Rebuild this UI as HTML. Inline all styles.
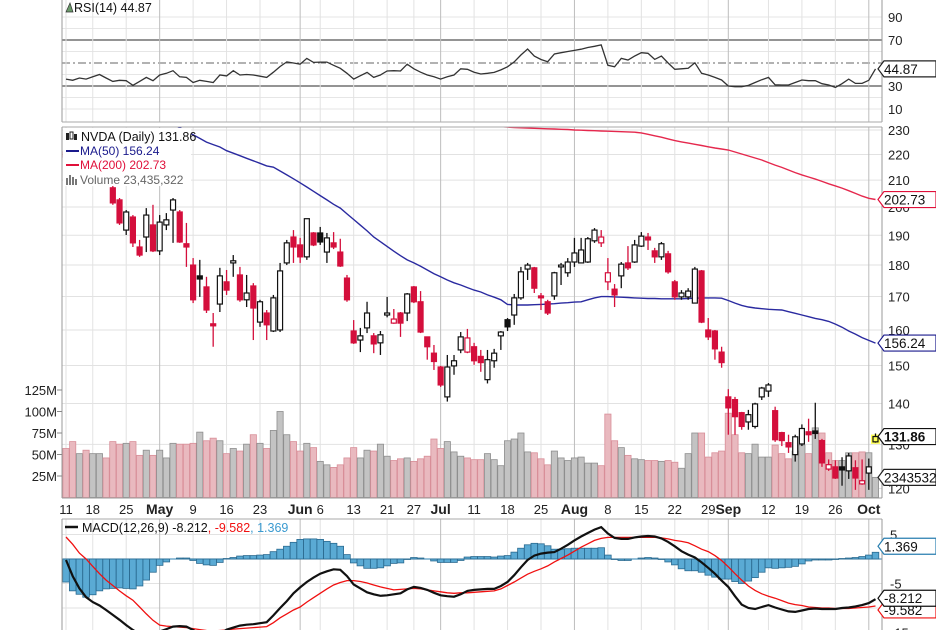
<!DOCTYPE html>
<html><head><meta charset="utf-8"><title>NVDA Daily</title>
<style>
html,body{margin:0;padding:0;background:#fff;}
svg{display:block;font-family:"Liberation Sans",sans-serif;}
</style></head>
<body>
<svg id="chart" xmlns="http://www.w3.org/2000/svg" width="936" height="630" viewBox="0 0 936 630">
<defs>
<clipPath id="cpMain"><rect x="62" y="127" width="820" height="371"/></clipPath>
<clipPath id="cpRsi"><rect x="62" y="0" width="820" height="122"/></clipPath>
<clipPath id="cpMacd"><rect x="62" y="519" width="820" height="111"/></clipPath>
</defs>
<rect x="0" y="0" width="936" height="630" fill="#fff"/>
<g id="grid"></g>
<g id="vol" clip-path="url(#cpMain)"></g>
<g id="ma" clip-path="url(#cpMain)"></g>
<g id="candles" clip-path="url(#cpMain)"></g>
<g id="rsi" clip-path="url(#cpRsi)"></g>
<g id="macd" clip-path="url(#cpMacd)"></g>
<g id="frames">
<line x1="62" y1="0" x2="62" y2="122" stroke="#999"/>
<line x1="882" y1="0" x2="882" y2="122" stroke="#999"/>
<line x1="62" y1="122" x2="882" y2="122" stroke="#aaa"/>
<line x1="62" y1="127" x2="882" y2="127" stroke="#aaa"/>
<line x1="62" y1="127" x2="62" y2="498" stroke="#999"/>
<line x1="882" y1="127" x2="882" y2="498" stroke="#999"/>
<line x1="62" y1="498" x2="882" y2="498" stroke="#999"/>
<line x1="62" y1="519" x2="882" y2="519" stroke="#aaa"/>
<line x1="62" y1="519" x2="62" y2="630" stroke="#999"/>
<line x1="882" y1="519" x2="882" y2="630" stroke="#999"/>
</g>
<g id="axes" font-size="13" fill="#222"></g>
<g id="legend-main">
<rect x="63" y="128" width="128" height="58" fill="#fff"/>
<g><rect x="66" y="133" width="3" height="7" fill="#222"/><rect x="70" y="132" width="3" height="7" fill="none" stroke="#222" stroke-width="1"/><rect x="74" y="134" width="3" height="6" fill="#222"/></g>
<text x="81" y="141" font-size="12.5" fill="#111">NVDA (Daily) 131.86</text>
<line x1="66" y1="151" x2="79" y2="151" stroke="#1a1a8c" stroke-width="2"/>
<text x="80" y="155" font-size="12" fill="#1a1a8c">MA(50) 156.24</text>
<line x1="66" y1="165" x2="79" y2="165" stroke="#e0103a" stroke-width="2"/>
<text x="80" y="169" font-size="12" fill="#e0103a">MA(200) 202.73</text>
<g><rect x="66" y="178" width="2" height="7" fill="#777"/><rect x="69" y="175" width="2" height="10" fill="#777"/><rect x="72" y="177" width="2" height="8" fill="#777"/><rect x="75" y="179" width="2" height="6" fill="#777"/></g>
<text x="80" y="184" font-size="12" fill="#666">Volume 23,435,322</text>
</g>
<g id="legend-rsi">
<polygon points="66,12 70,3 73,12" fill="#6a9a6a" stroke="#333" stroke-width="0.7"/>
<text x="74" y="12" font-size="12.5" fill="#111">RSI(14) 44.87</text>
</g>
<g id="legend-macd">
<line x1="65" y1="527" x2="78" y2="527" stroke="#111" stroke-width="2.5"/>
<text x="82" y="532" font-size="12.5" fill="#111">MACD(12,26,9) -8.212<tspan fill="#f01010">, -9.582</tspan><tspan fill="#3a9ad0">, 1.369</tspan></text>
</g>
<g id="tags"></g>
</svg>
<script>
// ---------- data ----------
const dateTicks = [0,4,9,14,19,24,29,35,38,43,48,52,56,61,66,71,76,81,86,91,96,99,105,110,115,120];
const dateLabels = ["11","18","25","May","9","16","23","Jun","6","13","21","27","Jul","11","18","25","Aug","8","15","22","29","Sep","12","19","26","Oct"];
const monthTicks = [14,35,56,76,99,120];
const priceTicks = [120,130,140,150,160,170,180,190,200,210,220,230];
const volTicks = [25,50,75,100,125];
const volTickLabels = ["25M","50M","75M","100M","125M"];
const rsiTicks = [10,20,30,40,50,60,70,80,90];
const macdTicks = [5,0,-5,-10,-15];

const opens = [221,219,214,222,212,215,218,207.1,202.6,191.8,196.4,186.0,189.4,193.6,184.7,193.6,198.9,198.2,187.1,180.0,176.5,173.0,161.8,167.7,174.6,180.7,176.8,169.0,173.3,162.3,165.0,159.7,160.0,180.7,189.4,186.7,182.7,190.8,190.8,184.3,187.4,184.3,175.8,159.7,157.1,160.6,158.3,156.3,164.4,162.0,165.0,165.0,173.0,168.4,158.0,153.4,149.6,141.7,149.9,154.3,153.7,155.2,152.5,146.2,151.3,158.3,163.0,164.4,169.6,178.7,179.1,170.2,168.4,170.2,179.4,177.5,181.0,180.7,181.0,188.1,187.4,174.6,172.3,176.5,180.7,181.0,186.3,189.4,184.7,182.7,183.7,174.6,169.9,169.9,168.0,178.1,160.0,159.7,153.7,141.7,141.0,137.7,135.4,134.3,141.7,143.2,138.2,132.8,130.4,127.6,130.1,133.0,133.2,130.9,124.3,124.8,124.8,123.9,124.6,121.0,123.4,130.6];
const highs = [224,223,223,223,217,222,219,208.2,203.3,198.9,197.1,188.4,199.6,200.8,197.1,197.8,203.3,198.9,194.3,182.3,181.7,176.2,165.0,179.1,178.4,183.3,179.4,176.8,174.2,169.0,165.9,170.5,180.7,188.4,191.8,189.1,195.8,191.1,192.9,190.8,191.1,188.8,176.8,162.9,160.6,168.4,159.1,159.7,169.9,166.2,165.3,171.1,173.3,171.7,158.0,155.7,149.9,152.9,152.9,159.4,160.3,156.3,154.3,154.3,154.6,159.7,163.5,170.8,179.4,180.7,179.4,171.1,169.0,177.8,180.7,182.3,189.1,189.1,189.4,192.5,191.8,182.3,173.9,181.0,186.3,188.4,191.1,190.8,185.7,187.7,184.7,175.2,172.0,172.6,179.4,178.4,163.5,160.0,155.2,143.7,141.7,137.9,138.4,140.2,144.3,145.3,139.2,133.0,132.3,132.3,134.8,136.2,140.2,131.3,126.5,126.3,127.0,128.0,126.3,126.5,126.7,132.6];
const lows = [216,213,213,211,208,213,208,200.8,193.6,190.1,186.0,182.7,184.3,184.3,183.3,191.8,187.4,187.4,179.4,168.0,169.9,165.0,155.2,165.3,170.5,176.2,168.4,166.8,157.1,160.9,157.1,159.4,159.4,180.0,180.7,180.7,181.7,186.3,186.7,180.7,185.3,179.4,168.4,156.0,153.7,159.1,153.4,152.9,163.7,161.8,158.0,162.6,168.0,159.1,151.6,148.8,144.3,140.5,147.5,153.4,153.4,150.2,148.3,145.2,149.4,154.3,159.7,161.5,169.0,175.2,171.1,165.9,164.4,169.0,173.6,176.2,179.4,180.7,180.7,187.4,186.0,172.0,166.8,172.6,178.4,180.7,186.0,185.0,180.7,181.7,177.2,169.0,169.0,169.0,168.0,162.0,157.1,151.6,149.4,132.3,132.3,133.5,133.5,133.8,140.9,141.7,130.6,129.6,128.0,126.0,129.6,130.6,131.3,124.8,123.9,122.1,120.6,122.1,119.7,120.8,119.7,130.4];
const closes = [219,214,222,212,215,220,210,201.5,194.3,198.2,187.4,183.3,197.1,184.7,194.6,195.4,202.6,187.7,186.0,169.0,175.5,165.9,161.2,176.5,172.0,181.4,169.0,171.1,166.5,168.4,161.5,169.6,178.1,187.4,186.0,182.7,195.8,186.7,187.7,189.1,186.0,179.7,169.0,156.3,158.3,165.0,156.0,158.6,165.0,163.2,162.0,170.8,168.4,159.4,155.2,151.1,144.8,149.6,151.3,158.0,157.7,151.3,150.8,151.6,153.4,159.4,160.9,169.6,177.8,180.0,172.6,169.6,165.0,177.5,180.0,181.0,184.0,185.0,188.8,191.8,189.4,177.5,170.5,180.3,179.1,186.7,189.7,188.4,182.7,187.1,177.8,169.9,171.1,171.7,178.7,162.3,158.0,154.6,150.8,138.9,136.7,134.3,137.2,139.9,144.0,144.8,131.1,130.9,129.4,131.8,133.8,132.3,132.6,125.7,125.3,122.3,124.1,127.3,122.3,121.7,124.8,131.86];
const volumes = [57,65,51,55,51,51,46,65,62,63,65,49,55,49,55,46,63,62,62,63,76,66,69,66,51,57,54,62,73,63,57,78,100,73,65,54,63,58,42,38,35,38,46,58,46,55,54,62,48,43,45,46,42,45,48,68,57,65,53,48,46,44,44,51,44,37,66,68,75,53,52,45,38,54,46,43,46,47,40,40,37,97,66,58,49,45,44,43,43,42,43,41,34,51,75,75,47,52,54,98,73,52,51,62,47,47,61,51,45,54,61,51,81,75,52,43,43,52,52,53,52,23.4];
const ma50 = [250,249,248,247,246,245,244,243,242,240,239,238,237,236,234.5,233,232,231,229.5,228,226.5,225,224,223,221.5,220.5,219.5,218.5,217.5,216.5,215.5,215,213.5,212,210.5,209,207.4,205.8,204.2,202.6,201,199.6,197.5,195.5,193.5,191.5,189.4,187.8,186.2,184.6,183.1,181.7,180.7,179.6,178.4,177.2,176.2,175.2,174.3,173.6,172.8,172,171.4,170.5,169.8,169,167.6,167.4,167.4,167.4,167.5,167.6,167.7,167.8,168,168.1,168.3,168.4,169,169.6,170,170,169.9,169.8,169.7,169.6,169.5,169.4,169.4,169.3,169.3,169.3,169.3,169.4,169.5,169.6,169.6,169.6,169.5,168.8,168,167.3,166.8,166.5,166.3,166.1,166,165.9,165.4,164.9,164.4,163.9,163.4,163,162.5,161.7,160.8,159.7,158.8,157.8,157,156.24];
const ma200 = [249.0,248.8,248.6,248.4,248.2,248.0,247.8,247.5,247.3,247.0,246.8,246.5,246.3,246.0,245.8,245.5,245.3,245.0,244.8,244.5,244.2,244.0,243.7,243.4,243.1,242.8,242.5,242.2,241.9,241.6,241.3,241.0,240.7,240.4,240.1,239.8,239.5,239.2,238.9,238.6,238.3,238.0,237.7,237.4,237.1,236.8,236.5,236.2,235.9,235.6,235.3,235.0,234.7,234.4,234.1,233.8,233.5,233.2,232.9,232.6,232.4,232.2,232.0,231.8,231.6,231.4,231.2,231.0,230.9,230.8,230.7,230.6,230.5,230.4,230.3,230.2,230.0,229.9,229.8,229.7,229.6,229.5,229.4,229.3,229.2,229.1,228.8,228.2,227.6,227.0,226.3,225.6,225.1,224.6,224.1,223.6,223.1,222.6,222.2,221.8,221.0,220.2,219.4,218.6,217.8,216.8,215.8,214.9,213.9,212.9,212.0,211.2,210.4,209.5,208.6,207.8,207.0,206.0,205.0,204.0,203.2,202.73];
const rsiValues = [36,35,37,36,38,40,37,34,35,34.6,30.6,34,37.5,34.6,39.6,41,43.3,38,37.5,33,35,34,33,39.6,38.8,43.3,39.6,40,39.6,38.5,37.5,42,47,51,50,49,54,50.5,50.8,50.8,48,45.4,41,36,39,41.8,37.5,39.6,43,43.3,43,49,45,42,39.6,38,36,38,39.6,45,44.5,42,40.4,41,41.8,44,46.7,51,57,62.2,56,53,51.1,57.8,59,60,61,62,63.5,64.5,65.7,48,46.7,54,52.6,56,59,58.4,53.1,56,50,44.5,45,45.4,50.2,41,39.6,37.5,35.2,30,29.4,29.4,30.5,33,35.5,37.5,31,30.9,30.9,33,35.2,34.6,34.6,32,30.9,28.8,32,36,32.3,32.3,35,44.87];
const macdValues = [-0.2,-3.5,-6,-7.8,-8.8,-9.5,-10.4,-11.4,-12.4,-13.5,-14.5,-15.3,-15.5,-15.2,-14.8,-14.3,-13.8,-13.7,-13.8,-14.5,-15.3,-15.8,-16,-15.3,-14.4,-14,-13.6,-13.4,-13.3,-13.1,-12.9,-11.5,-10,-8.6,-7,-5.8,-4.7,-3.8,-3,-2.5,-2.1,-2.2,-3.5,-5.2,-6,-6.8,-7.2,-7.5,-7.4,-7.2,-7,-6.2,-5.7,-5.9,-6.3,-6.9,-7.4,-7.6,-7.7,-7.2,-6.5,-6.3,-6.2,-6.1,-6.1,-5.5,-4.7,-3.3,-1.7,-0.2,0.7,1.1,1.3,1.4,2.1,2.9,3.8,4.6,5.3,6,6.5,5.2,4.3,4.1,4.1,4.4,4.6,4.7,4.6,4.2,3.5,2.6,1.6,0.9,0.3,-0.7,-1.8,-3,-4.4,-5.7,-7.6,-9.3,-10,-10.2,-9.8,-9.4,-9.9,-10.3,-10.7,-10.8,-10.5,-10.2,-10.1,-10.2,-10.2,-10.2,-10,-9.9,-9.7,-9.4,-9,-8.212];
const signalValues = [4.5,3,1.2,0,-1.5,-3,-4.3,-5.4,-6.5,-7.5,-8.4,-9.8,-11.2,-12.5,-13.5,-13.7,-13.8,-13.9,-14,-14.2,-14.4,-14.6,-14.7,-14.6,-14.5,-14.3,-14.2,-14.1,-14,-13.9,-13.8,-13,-12,-11.2,-10.4,-9.8,-8.8,-7.9,-7,-6.1,-5.3,-4.8,-4.4,-4.4,-4.6,-4.9,-5.3,-5.7,-6,-6.3,-6.2,-6.1,-6,-6.1,-6.3,-6.5,-6.7,-6.9,-7,-6.9,-6.9,-6.8,-6.7,-6.6,-6.5,-6.1,-5.4,-4.7,-3.9,-3.1,-2.5,-2,-1.4,-0.6,0.1,0.8,1.6,2.4,3.1,3.8,4.2,4.4,4.4,4.4,4.4,4.4,4.4,4.4,4.4,4.3,4.1,3.8,3.6,3.3,2.7,2,1.5,0.7,-0.3,-1.6,-3,-4.3,-5.5,-6.4,-7.1,-7.6,-8,-8.5,-9,-9.3,-9.5,-9.8,-9.9,-10,-10,-10.1,-10.1,-10.1,-10,-9.9,-9.8,-9.582];

// ---------- scales ----------
const NS = "http://www.w3.org/2000/svg";
const X0 = 66, DX = 6.69;
const xs = i => X0 + i * DX;
const yPrice = p => 130 + (Math.log(230) - Math.log(p)) * 551;
const yVol = v => 497.5 - v * 0.86;
const yRsi = r => 86 - (r - 30) * 1.15;
const yMacd = m => 559 - m * 4.9;
function mk(tag, attrs, parent) {
  const e = document.createElementNS(NS, tag);
  for (const k in attrs) e.setAttribute(k, attrs[k]);
  parent.appendChild(e);
  return e;
}
const g = id => document.getElementById(id);

// ---------- grid ----------
const grid = g('grid');
priceTicks.forEach(p => {
  const l = mk('line', {x1: 62, x2: 882, y1: yPrice(p), y2: yPrice(p), stroke: '#e2e2e2'}, grid);
  
  
});
rsiTicks.forEach(r => {
  const strong = (r === 70 || r === 30);
  const l = mk('line', {x1: 62, x2: 882, y1: yRsi(r), y2: yRsi(r), stroke: strong ? '#555' : (r === 50 ? '#666' : '#e6e6e6'), 'stroke-width': strong ? 1.3 : 1}, grid);
  if (r === 50) l.setAttribute('stroke-dasharray', '8,3,2,3');
  
  
});
macdTicks.forEach(m => {
  const l = mk('line', {x1: 62, x2: 882, y1: yMacd(m), y2: yMacd(m), stroke: '#e2e2e2'}, grid);
  
  
});
dateTicks.forEach(i => {
  const month = monthTicks.includes(i);
  [[0,122],[127,498],[519,630]].forEach(r => {
    const l = mk('line', {x1: xs(i), x2: xs(i), y1: r[0], y2: r[1], stroke: month ? '#bdbdbd' : '#e2e2e2'}, grid);
    
    
  });
});

// ---------- volume ----------
const vol = g('vol');
volumes.forEach((v, i) => {
  const prev = i > 0 ? closes[i - 1] : opens[i];
  const down = closes[i] < prev;
  const r = mk('rect', {x: xs(i) - 3.1, y: yVol(v), width: 6.2, height: 497.5 - yVol(v),
    fill: down ? '#e9b9bf' : '#c3c3c3', stroke: down ? '#d88e98' : '#8e8e8e', 'stroke-width': 0.8}, vol);
  
  
});

// ---------- moving averages ----------
const ma = g('ma');
function linePath(arr, fx, fy) { return arr.map((v, i) => (i ? 'L' : 'M') + fx(i).toFixed(1) + ',' + fy(v).toFixed(1)).join(''); }
const p50 = mk('path', {d: linePath(ma50, xs, yPrice), fill: 'none', stroke: '#2a2aa0', 'stroke-width': 1.4}, ma);


const p200 = mk('path', {d: linePath(ma200, xs, yPrice), fill: 'none', stroke: '#e5284d', 'stroke-width': 1.4}, ma);



// ---------- candles ----------
const cg = g('candles');
opens.forEach((o, i) => {
  const c = closes[i], h = highs[i], l = lows[i];
  const prev = i > 0 ? closes[i - 1] : o;
  let stroke, fill;
  if (c >= o) { if (c >= prev) { stroke = '#111'; fill = '#fff'; } else { stroke = '#d40f3c'; fill = '#fff'; } }
  else { if (c < prev) { stroke = '#d40f3c'; fill = '#d40f3c'; } else { stroke = '#111'; fill = '#111'; } }
  const last = i === opens.length - 1;
  const grp = mk('g', {}, cg);
  
  
  const x = xs(i);
  const top = yPrice(Math.max(o, c)), bot = yPrice(Math.min(o, c));
  if (last) {
    mk('rect', {x: x - 4.5, y: top - 2, width: 9, height: bot - top + 4, fill: '#ffff55'}, grp);
  }
  mk('line', {x1: x, x2: x, y1: yPrice(h), y2: yPrice(l), stroke: stroke, 'stroke-width': 1.3}, grp);
  mk('rect', {x: x - 2.5, y: top, width: 5, height: Math.max(bot - top, 1.2), fill: last ? '#ffff55' : fill, stroke: stroke, 'stroke-width': 1.2}, grp);
});

// ---------- RSI ----------
const rg = g('rsi');
const rp = mk('path', {d: linePath(rsiValues, xs, yRsi), fill: 'none', stroke: '#333', 'stroke-width': 1.3}, rg);



// ---------- MACD ----------
const mg = g('macd');
const zl = mk('line', {x1: 62, x2: 882, y1: yMacd(0), y2: yMacd(0), stroke: '#2a7fb0', 'stroke-width': 1}, mg);


macdValues.forEach((m, i) => {
  const hv = m - signalValues[i];
  const y0 = yMacd(0), y1 = yMacd(hv);
  const r = mk('rect', {x: xs(i) - 3.3, y: Math.min(y0, y1), width: 6.6, height: Math.abs(y1 - y0), fill: '#5aaad4', stroke: '#2a6a90', 'stroke-width': 0.8}, mg);
  
  
});
const sp = mk('path', {d: linePath(signalValues, xs, yMacd), fill: 'none', stroke: '#f01010', 'stroke-width': 1.3}, mg);


const mp = mk('path', {d: linePath(macdValues, xs, yMacd), fill: 'none', stroke: '#111', 'stroke-width': 2.2}, mg);



// ---------- axis labels ----------
const ax = g('axes');
function txt(s, x, y, attrs, name) {
  const t = mk('text', Object.assign({x: x, y: y}, attrs || {}), ax);
  t.textContent = s;
  
  
  return t;
}
priceTicks.forEach(p => txt(String(p), 888, yPrice(p) + 5, {}, 'price-tick-label'));
[90,70,30,10].forEach(r => txt(String(r), 888, yRsi(r) + 5, {}, 'rsi-tick-label'));
[5,-5,-15].forEach(m => txt(String(m), 890, yMacd(m) + 5, {}, 'macd-tick-label'));
volTicks.forEach((v, k) => {
  txt(volTickLabels[k], 57, yVol(v) + 5, {'text-anchor': 'end'}, 'volume-tick-label');
  const l = mk('line', {x1: 57, x2: 62, y1: yVol(v), y2: yVol(v), stroke: '#888'}, ax);
  
  
});
dateTicks.forEach((i, k) => {
  const month = monthTicks.includes(i);
  txt(dateLabels[k], xs(i), 514, {'text-anchor': 'middle', 'font-weight': month ? 'bold' : 'normal', 'font-size': month ? 14 : 13}, month ? 'month-label' : 'date-label');
});

// ---------- value tags ----------
const tg = g('tags');
function tag(y, label, color, fillText, bold, name) {
  const grp = mk('g', {}, tg);
  
  
  mk('polygon', {points: `878,${y} 884,${y-8} 936,${y-8} 936,${y+8} 884,${y+8}`, fill: '#fff', stroke: color, 'stroke-width': 1.2}, grp);
  const t = mk('text', {x: 884, y: y + 5, 'font-size': 13.5, fill: fillText, 'font-weight': bold ? 'bold' : 'normal'}, grp);
  t.textContent = label;
}
tag(yRsi(rsiValues[rsiValues.length - 1]), '44.87', '#222', '#111', false, 'rsi-value-tag');
tag(yPrice(ma200[ma200.length - 1]), '202.73', '#e0103a', '#111', false, 'ma200-value-tag');
tag(yPrice(ma50[ma50.length - 1]), '156.24', '#1a1a8c', '#111', false, 'ma50-value-tag');
tag(yVol(volumes[volumes.length - 1]), '23435322', '#222', '#111', false, 'volume-value-tag');
tag(yPrice(closes[closes.length - 1]), '131.86', '#111', '#111', true, 'price-value-tag');
tag(yMacd(signalValues[signalValues.length - 1]) + 4, '-9.582', '#f01010', '#111', false, 'signal-value-tag');
tag(yMacd(macdValues[macdValues.length - 1]) - 1, '-8.212', '#111', '#111', false, 'macd-value-tag');
tag(yMacd(macdValues[macdValues.length - 1] - signalValues[signalValues.length - 1]) - 6, '1.369', '#2a7fb0', '#111', false, 'histogram-value-tag');
</script>
</body></html>
